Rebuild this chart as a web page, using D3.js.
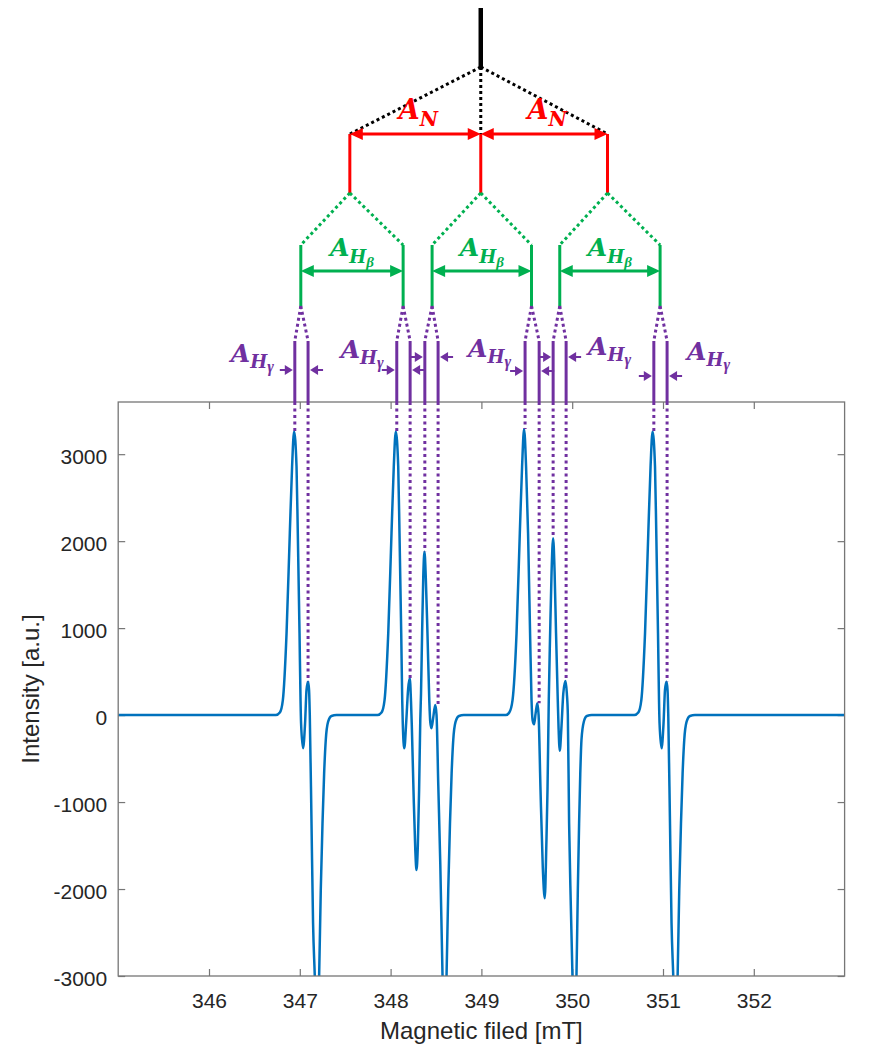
<!DOCTYPE html>
<html>
<head>
<meta charset="utf-8">
<script src="https://cdn.jsdelivr.net/npm/d3@7"></script>
<style>
  body { margin: 0; background: #fff; }
  svg { display: block; }
</style>
</head>
<body>
<div id="chart"></div>
<script>
// Spectrum points: field in mT, intensity in a.u.
const spectrumField = [
  345.000, 346.736, 346.780, 346.813, 346.854, 346.890, 346.915, 346.937, 346.964, 346.978,
  346.997, 347.008, 347.014, 347.036, 347.058, 347.074, 347.091, 347.102, 347.110, 347.129,
  347.146, 347.165, 347.187, 347.213, 347.231, 347.250, 347.268, 347.286, 347.312, 347.349,
  347.404,
  347.856, 347.900, 347.933, 347.974, 348.010, 348.035, 348.057, 348.084, 348.098, 348.117,
  348.128, 348.134, 348.151, 348.173, 348.193, 348.211, 348.225, 348.233, 348.252, 348.272,
  348.285, 348.300, 348.314, 348.327, 348.335, 348.347, 348.360, 348.373, 348.387, 348.406,
  348.426, 348.437, 348.450, 348.468, 348.492, 348.506, 348.525, 348.547, 348.572, 348.594,
  348.616, 348.635, 348.654, 348.672, 348.690, 348.716, 348.753, 348.806,
  349.269, 349.307, 349.343, 349.387, 349.423, 349.448, 349.470, 349.492, 349.514, 349.536,
  349.552, 349.564, 349.580, 349.597, 349.616, 349.630, 349.651, 349.676, 349.698, 349.715,
  349.728, 349.737, 349.742, 349.757, 349.773, 349.790, 349.806, 349.822, 349.841, 349.850,
  349.863, 349.881, 349.902, 349.926, 349.941, 349.952, 349.966, 349.985, 350.003, 350.025,
  350.047, 350.062, 350.076, 350.089, 350.102, 350.128, 350.161, 350.216,
  350.684, 350.728, 350.761, 350.802, 350.838, 350.863, 350.885, 350.912, 350.926, 350.945,
  350.956, 350.962, 350.984, 351.006, 351.022, 351.039, 351.050, 351.058, 351.077, 351.094,
  351.113, 351.135, 351.161, 351.179, 351.198, 351.216, 351.234, 351.260, 351.297, 351.352,
  353.000
];
const spectrumIntensity = [
  0, 0, 30, 170, 940, 2090, 2857, 3259, 2857, 2090,
  940, 173, -94, -382, -94, 289, 384, 289, 0, -1245,
  -2390, -3000, -3800, -3000, -2010, -1245, -670, -286, -76, -10,
  0,
  0, 30, 170, 940, 2090, 2857, 3259, 2857, 2090, 940,
  173, -94, -382, -60, 300, 423, 150, -100, -860, -1550,
  -1781, -1500, -860, -50, 250, 940, 1600, 1879, 1600, 940,
  173, -80, -150, -40, 116, 0, -800, -1700, -3000, -3800,
  -3000, -2010, -1245, -670, -286, -76, -10, 0,
  0, 30, 173, 940, 2090, 2857, 3290, 2857, 2090, 940,
  173, -60, -106, 20, 136, 0, -860, -1750, -2107, -1500,
  -860, -200, 173, 940, 1650, 2033, 1650, 940, 173, -150,
  -409, -150, 250, 392, 250, 0, -1245, -2200, -3000, -3800,
  -3000, -2010, -1245, -670, -286, -76, -10, 0,
  0, 30, 170, 940, 2090, 2857, 3259, 2857, 2090, 940,
  173, -94, -382, -94, 289, 384, 289, 0, -1245, -2390,
  -3000, -3800, -3000, -2010, -1245, -670, -286, -76, -10, 0,
  0
];

const fieldTicks = [346, 347, 348, 349, 350, 351, 352];
const intensityTicks = [-3000, -2000, -1000, 0, 1000, 2000, 3000];

// Stick diagram (line positions in mT)
const centreLine = 348.993;
const nitrogenLines = [347.551, 348.993, 350.389];
const betaLines = [347.011, 348.138, 348.457, 349.552, 349.863, 350.968];
const gammaLines = [346.945, 347.091, 348.068, 348.215, 348.377, 348.523,
                    349.481, 349.636, 349.790, 349.933, 350.899, 351.045];
// intensity where each dotted guide meets the spectrum
const gammaLineTops = [3259, 384, 3259, 423, 1879, 116, 3290, 136, 2033, 392, 3259, 384];

let width = 869;
let height = 1055;
let plotLeft = 118.2, plotRight = 844.6, plotTop = 402, plotBottom = 976;

let red = "#ff0000", green = "#00b050", purple = "#7030a0", blue = "#0072bd";
let axisGrey = "#767676", textGrey = "#262626";
let labelFont = "'DejaVu Serif', serif";
let greekFont = "'Liberation Serif', serif";

let svg = d3.select("#chart").append("svg")
  .attr("width", width)
  .attr("height", height);

svg.append("rect").attr("width", width).attr("height", height).style("fill", "white");

let x = d3.scaleLinear().domain([345, 353]).range([plotLeft, plotRight]);
let y = d3.scaleLinear().domain([-3000, 3600]).range([plotBottom, plotTop]);

// Axes (MATLAB style: ticks inside, mirrored on the box)
let bottomAxis = d3.axisBottom(x).tickValues(fieldTicks).tickFormat(d => String(d))
  .tickSizeInner(-7).tickSizeOuter(0).tickPadding(17);
let topAxis = d3.axisTop(x).tickValues(fieldTicks).tickFormat("")
  .tickSizeInner(-7).tickSizeOuter(0);
let leftAxis = d3.axisLeft(y).tickValues(intensityTicks).tickFormat(d => String(d))
  .tickSizeInner(-7).tickSizeOuter(0).tickPadding(11);
let rightAxis = d3.axisRight(y).tickValues(intensityTicks).tickFormat("")
  .tickSizeInner(-7).tickSizeOuter(0);

function styleAxis(g) {
  g.select(".domain").remove();
  g.selectAll(".tick line").style("stroke", axisGrey).style("stroke-width", 1.2);
  g.selectAll(".tick text")
    .style("font-family", "'Liberation Sans', Arial, sans-serif")
    .style("font-size", "21px")
    .style("fill", textGrey);
}

svg.append("g").attr("transform", "translate(0," + plotBottom + ")").call(bottomAxis).call(styleAxis);
svg.append("g").attr("transform", "translate(0," + plotTop + ")").call(topAxis).call(styleAxis);
let yAxisG = svg.append("g").attr("transform", "translate(" + plotLeft + ",0)").call(leftAxis).call(styleAxis);
yAxisG.selectAll(".tick text").attr("dy", "0.45em");
svg.append("g").attr("transform", "translate(" + plotRight + ",0)").call(rightAxis).call(styleAxis);

// Spectrum
svg.append("clipPath").attr("id", "plotClip")
  .append("rect")
  .attr("x", plotLeft).attr("y", plotTop)
  .attr("width", plotRight - plotLeft).attr("height", plotBottom - plotTop);

let spectrum = d3.zip(spectrumField, spectrumIntensity);
let line = d3.line()
  .x(d => x(d[0]))
  .y(d => y(d[1]))
  .curve(d3.curveMonotoneX);

svg.append("path")
  .datum(spectrum)
  .attr("d", line)
  .attr("clip-path", "url(#plotClip)")
  .style("fill", "none")
  .style("stroke", blue)
  .style("stroke-width", 2.5)
  .style("stroke-linejoin", "round");

// Box
svg.append("rect")
  .attr("x", plotLeft).attr("y", plotTop)
  .attr("width", plotRight - plotLeft).attr("height", plotBottom - plotTop)
  .style("fill", "none")
  .style("stroke", axisGrey)
  .style("stroke-width", 1.3);

// Axis titles
svg.append("text")
  .attr("x", (plotLeft + plotRight) / 2)
  .attr("y", 1039)
  .attr("text-anchor", "middle")
  .style("font-family", "'Liberation Sans', Arial, sans-serif")
  .style("font-size", "24px")
  .style("fill", textGrey)
  .text("Magnetic filed [mT]");

svg.append("text")
  .attr("transform", "translate(39," + ((plotTop + plotBottom) / 2) + ") rotate(-90)")
  .attr("text-anchor", "middle")
  .style("font-family", "'Liberation Sans', Arial, sans-serif")
  .style("font-size", "24px")
  .style("fill", textGrey)
  .text("Intensity [a.u.]");

// ---- Splitting diagram ----
let diagram = svg.append("g");

function seg(x1, y1, x2, y2, colour, w, dash) {
  let l = diagram.append("line")
    .attr("x1", x1).attr("y1", y1).attr("x2", x2).attr("y2", y2)
    .style("stroke", colour)
    .style("stroke-width", w);
  if (dash) l.style("stroke-dasharray", dash);
  return l;
}

function head(tipX, yPos, dir, len, half, colour) {
  // dir = -1 points left, +1 points right
  let bx = tipX - dir * len;
  diagram.append("path")
    .attr("d", "M" + tipX + "," + yPos + "L" + bx + "," + (yPos - half) + "L" + bx + "," + (yPos + half) + "Z")
    .style("fill", colour);
}

function doubleArrow(x1, x2, yPos, colour) {
  seg(x1 + 6, yPos, x2 - 6, yPos, colour, 3);
  head(x1, yPos, -1, 13, 6, colour);
  head(x2, yPos, 1, 13, 6, colour);
}

function label(xPos, yBase, anchor, colour, parts) {
  let t = diagram.append("text")
    .attr("x", xPos).attr("y", yBase)
    .attr("text-anchor", anchor)
    .style("font-weight", "bold")
    .style("font-style", "italic")
    .style("fill", colour);
  parts.forEach(p => {
    t.append("tspan")
      .attr("dy", p.dy)
      .style("font-family", p.greek ? greekFont : labelFont)
      .style("font-size", p.size + "px")
      .text(p.t);
  });
}

let yStickTop = 8, yStickBottom = 67;
let yRed = 134, yRedBottom = 193;
let yGreenTop = 245, yGreenArrow = 271, yGreenBottom = 306;
let yPurpleTop = 341;
let dots = "3,3";

// central line
seg(x(centreLine), yStickTop, x(centreLine), yStickBottom, "black", 4.5);

// black dotted split to nitrogen lines
nitrogenLines.forEach(n => {
  seg(x(centreLine), yStickBottom, x(n), yRed, "black", 3, dots);
});

// nitrogen (red) lines and arrows
nitrogenLines.forEach(n => {
  seg(x(n), yRed, x(n), yRedBottom, red, 3);
});
for (let i = 0; i < nitrogenLines.length - 1; i++) {
  let a = x(nitrogenLines[i]), b = x(nitrogenLines[i + 1]);
  doubleArrow(a, b, yRed, red);
  label((a + b) / 2 + 3, 119, "middle", red, [
    {t: "A", size: 27, dy: 0},
    {t: "N", size: 20, dy: 6.5}
  ]);
}

// beta proton (green) lines
betaLines.forEach((b, i) => {
  let parent = nitrogenLines[Math.floor(i / 2)];
  seg(x(parent), yRedBottom, x(b), yGreenTop, green, 3, dots);
  seg(x(b), yGreenTop, x(b), yGreenBottom, green, 3);
});
for (let i = 0; i < betaLines.length; i += 2) {
  let a = x(betaLines[i]), b = x(betaLines[i + 1]);
  doubleArrow(a, b, yGreenArrow, green);
  label((a + b) / 2, 256, "middle", green, [
    {t: "A", size: 25, dy: 0},
    {t: "H", size: 18, dy: 7},
    {t: "β", size: 15, dy: 4, greek: true}
  ]);
}

// gamma proton (purple) lines
gammaLines.forEach((g, i) => {
  let parent = betaLines[Math.floor(i / 2)];
  seg(x(parent), yGreenBottom, x(g), yPurpleTop, purple, 3, dots);
  seg(x(g), yPurpleTop, x(g), plotTop, purple, 3);
  seg(x(g), plotTop, x(g), y(gammaLineTops[i]), purple, 3, "3,3.5");
});

// inward arrows for each gamma pair
let pairArrowY = [370, 370, 357, 371, 357, 376];
for (let p = 0; p < gammaLines.length / 2; p++) {
  let a = x(gammaLines[2 * p]), b = x(gammaLines[2 * p + 1]);
  let yy = pairArrowY[p];
  seg(a - 2 - 13, yy, a - 8, yy, purple, 2);
  head(a - 2, yy, 1, 8, 5, purple);
  seg(b + 2 + 13, yy, b + 8, yy, purple, 2);
  head(b + 2, yy, -1, 8, 5, purple);
}

let gammaParts = [
  {t: "A", size: 25, dy: 0},
  {t: "H", size: 18, dy: 6},
  {t: "γ", size: 16, dy: 4, greek: true}
];
label(x(gammaLines[0]) - 21, 362, "end", purple, gammaParts);
label(x(gammaLines[2]) - 13, 358, "end", purple, gammaParts);
label(x(gammaLines[5]) + 30, 357, "start", purple, gammaParts);
label(x(gammaLines[9]) + 22, 355, "start", purple, gammaParts);
label(x(gammaLines[11]) + 20, 360, "start", purple, gammaParts);
</script>
</body>
</html>
